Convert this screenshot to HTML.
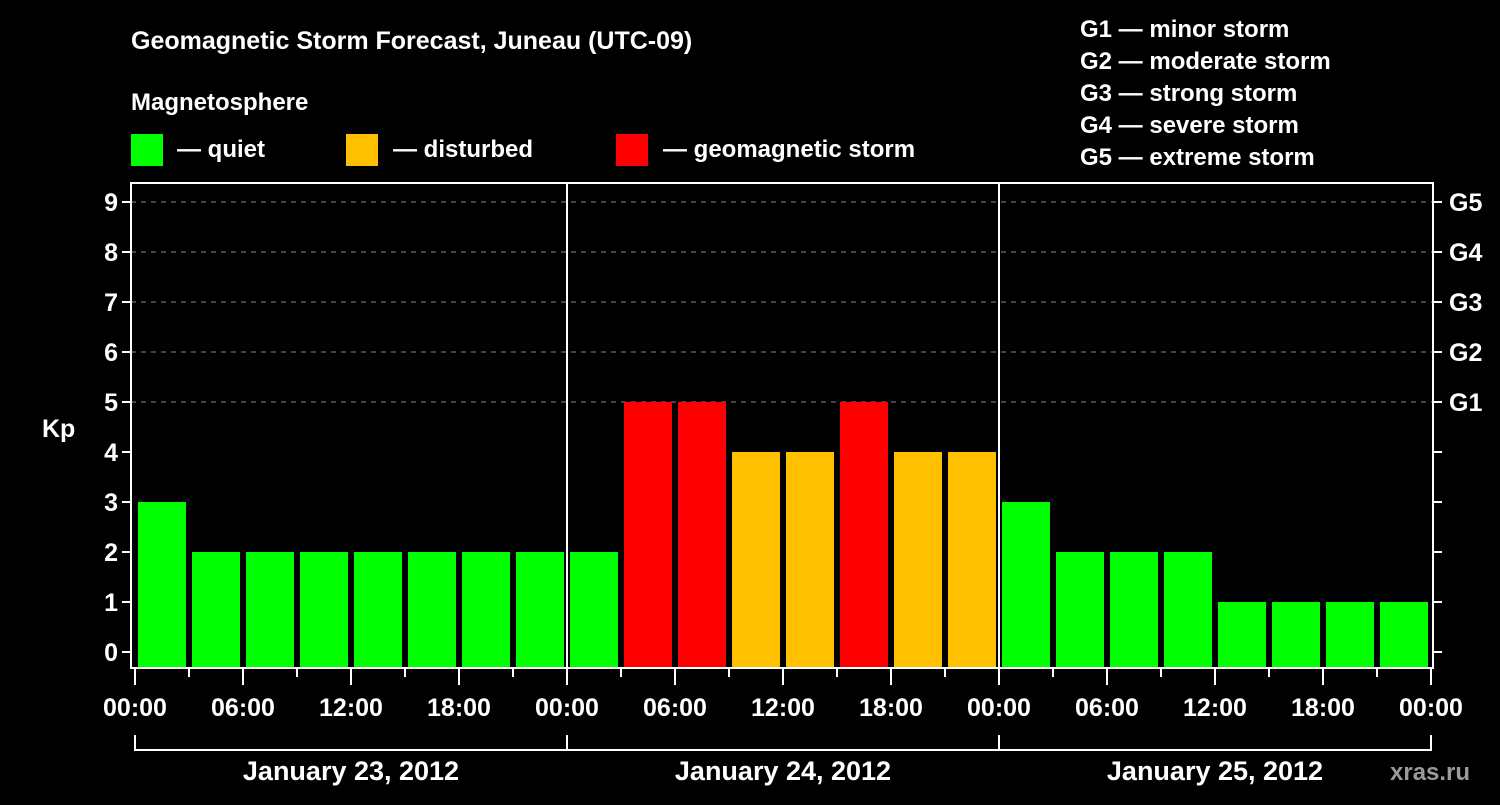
<!DOCTYPE html>
<html><head><meta charset="utf-8"><style>
body{margin:0;background:#000;}
svg text{font-family:"Liberation Sans",sans-serif;font-weight:bold;fill:#fff;}
</style></head><body>
<svg id="chart" width="1500" height="800" viewBox="0 0 1500 800">
<rect width="1500" height="800" fill="#000"/>
<text x="131" y="49" font-size="25">Geomagnetic Storm Forecast, Juneau (UTC-09)</text>
<text x="131" y="110" font-size="24">Magnetosphere</text>
<g><rect x="131" y="134" width="32" height="32" fill="#00ff00"/><text x="177" y="157" font-size="24">— quiet</text></g>
<g><rect x="346" y="134" width="32" height="32" fill="#ffc000"/><text x="393" y="157" font-size="24">— disturbed</text></g>
<g><rect x="616" y="134" width="32" height="32" fill="#ff0000"/><text x="663" y="157" font-size="24">— geomagnetic storm</text></g>
<g font-size="24">
<text x="1080" y="37">G1 — minor storm</text>
<text x="1080" y="69">G2 — moderate storm</text>
<text x="1080" y="101">G3 — strong storm</text>
<text x="1080" y="133">G4 — severe storm</text>
<text x="1080" y="165">G5 — extreme storm</text>
</g>
<text x="42" y="437" font-size="25">Kp</text>
<text x="1390" y="780" font-size="24" fill="#999" style="fill:#9a9a9a">xras.ru</text>
<g id="plot"></g>
</svg>
<script>
const kpValues=[3,2,2,2,2,2,2,2, 2,5,5,4,4,5,4,4, 3,2,2,2,1,1,1,1];
const dayLabels=["January 23, 2012","January 24, 2012","January 25, 2012"];
const hourLabels=["00:00","06:00","12:00","18:00"];
const gLabels=["G1","G2","G3","G4","G5"];
const X0=135,PX_H=18,Y0=652,PX_KP=50,TOP=183,BOT=668,LEFT=131,RIGHT=1433;
const xs=h=>X0+h*PX_H, ys=v=>Y0-v*PX_KP;
const g=document.getElementById('plot');const NS="http://www.w3.org/2000/svg";
function mk(t,a,txt){const e=document.createElementNS(NS,t);for(const k in a)e.setAttribute(k,a[k]);if(txt!=null)e.textContent=txt;g.appendChild(e);return e;}
for(let v=0;v<=9;v++){
 if(v>=5){const e=mk('line',{x1:LEFT,x2:RIGHT,y1:ys(v),y2:ys(v),stroke:'#888','stroke-dasharray':'5,5','stroke-width':1});
 
 }
 const t=mk('line',{x1:LEFT-9,x2:LEFT,y1:ys(v),y2:ys(v),stroke:'#fff','stroke-width':2});
 
 
 const l=mk('text',{x:LEFT-13,y:ys(v)+9,'font-size':25,'text-anchor':'end'},String(v));
 
 
 const r=mk('line',{x1:RIGHT,x2:RIGHT+9,y1:ys(v),y2:ys(v),stroke:'#fff','stroke-width':2});
 
 
}
gLabels.forEach((s,i)=>{const t=mk('text',{x:RIGHT+16,y:ys(5+i)+9,'font-size':25},s);
 
 });
kpValues.forEach((v,i)=>{const c=v>=5?'#ff0000':v==4?'#ffc000':'#00ff00';
 const b=mk('rect',{x:xs(i*3)+3,y:ys(v),width:48,height:BOT-ys(v),fill:c});
 
 });
for(let d=1;d<3;d++){const e=mk('line',{x1:xs(d*24),x2:xs(d*24),y1:TOP,y2:BOT,stroke:'#fff','stroke-width':2});
 
 }
const f=mk('rect',{x:LEFT,y:TOP,width:RIGHT-LEFT,height:BOT-TOP,fill:'none',stroke:'#fff','stroke-width':2});


for(let h=0;h<=72;h+=3){const major=h%6==0;
 const t=mk('line',{x1:xs(h),x2:xs(h),y1:BOT,y2:BOT+(major?17:9),stroke:'#fff','stroke-width':2});
 
 
 if(major){const l=mk('text',{x:xs(h),y:716,'font-size':25,'text-anchor':'middle'},hourLabels[(h%24)/6]);
 
 }}
const br=mk('polyline',{points:`${xs(0)},735 ${xs(0)},750 ${xs(72)},750 ${xs(72)},735`,fill:'none',stroke:'#fff','stroke-width':2});


for(let d=1;d<3;d++){const e=mk('line',{x1:xs(d*24),x2:xs(d*24),y1:735,y2:750,stroke:'#fff','stroke-width':2});
 
 }
dayLabels.forEach((s,d)=>{const t=mk('text',{x:xs(d*24+12),y:780,'font-size':27,'text-anchor':'middle'},s);
 
 });
</script>
</body></html>
